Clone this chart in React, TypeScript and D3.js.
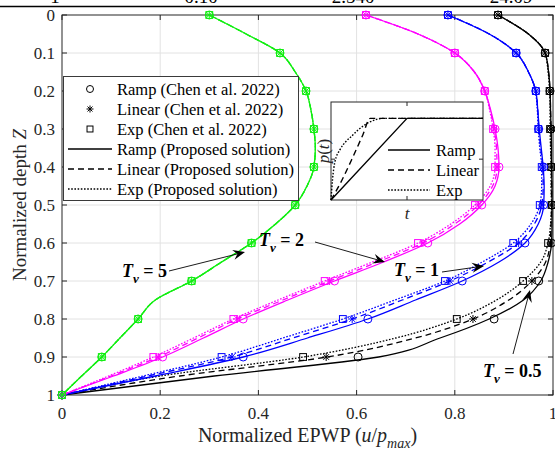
import * as d3 from 'd3'
import { useEffect, useRef } from 'react'

// depths where the proposed solution is sampled, and where Chen et al. 2022 values are marked
const zLine = [0, 0.05, 0.1, 0.15, 0.2, 0.25, 0.3, 0.35, 0.4, 0.45, 0.5, 0.55, 0.6, 0.65, 0.7, 0.75, 0.8, 0.85, 0.9, 0.95, 1]
const zMark = [0, 0.1, 0.2, 0.3, 0.4, 0.5, 0.6, 0.7, 0.8, 0.9, 1]

// Tv = 5 (all three loadings coincide)
const tv5Line = [0.30, 0.375, 0.444, 0.475, 0.497, 0.507, 0.513, 0.516, 0.513, 0.499, 0.475, 0.435, 0.386, 0.325, 0.264, 0.19, 0.155, 0.118, 0.081, 0.04, 0]
const tv5Mark = [0.30, 0.444, 0.497, 0.513, 0.513, 0.475, 0.386, 0.264, 0.155, 0.081, 0]

// Tv = 2
const tv2RampLine = [0.619, 0.725, 0.80, 0.84, 0.861, 0.873, 0.882, 0.888, 0.89, 0.882, 0.855, 0.81, 0.745, 0.655, 0.555, 0.46, 0.369, 0.288, 0.205, 0.105, 0]
const tv2LinLine = [0.619, 0.725, 0.80, 0.84, 0.861, 0.872, 0.88, 0.885, 0.886, 0.877, 0.848, 0.80, 0.735, 0.643, 0.545, 0.45, 0.357, 0.277, 0.196, 0.10, 0]
const tv2ExpLine = [0.619, 0.725, 0.80, 0.84, 0.861, 0.871, 0.878, 0.882, 0.882, 0.872, 0.841, 0.792, 0.725, 0.632, 0.535, 0.44, 0.349, 0.268, 0.186, 0.095, 0]
const tv2RampMark = [0.619, 0.80, 0.861, 0.882, 0.89, 0.855, 0.745, 0.555, 0.369, 0.205, 0]
const tv2LinMark = [0.619, 0.80, 0.861, 0.88, 0.886, 0.848, 0.735, 0.545, 0.357, 0.196, 0]
const tv2ExpMark = [0.619, 0.80, 0.861, 0.878, 0.882, 0.841, 0.725, 0.535, 0.349, 0.186, 0]

// Tv = 1
const tv1RampLine = [0.786, 0.87, 0.925, 0.95, 0.965, 0.969, 0.972, 0.976, 0.98, 0.982, 0.981, 0.97, 0.943, 0.89, 0.815, 0.72, 0.623, 0.50, 0.369, 0.19, 0]
const tv1LinLine = [0.786, 0.87, 0.925, 0.95, 0.965, 0.969, 0.971, 0.975, 0.979, 0.98, 0.977, 0.962, 0.93, 0.868, 0.79, 0.693, 0.591, 0.47, 0.346, 0.175, 0]
const tv1ExpLine = [0.786, 0.87, 0.925, 0.95, 0.964, 0.968, 0.97, 0.973, 0.977, 0.977, 0.973, 0.955, 0.919, 0.856, 0.78, 0.678, 0.572, 0.45, 0.325, 0.165, 0]
const tv1RampMark = [0.786, 0.925, 0.965, 0.971, 0.981, 0.981, 0.943, 0.815, 0.623, 0.369, 0]
const tv1LinMark = [0.786, 0.925, 0.965, 0.971, 0.979, 0.977, 0.93, 0.79, 0.591, 0.346, 0]
const tv1ExpMark = [0.786, 0.925, 0.965, 0.97, 0.977, 0.973, 0.919, 0.78, 0.572, 0.325, 0]

// Tv = 0.5
const tv05RampLine = [0.888, 0.95, 0.984, 0.991, 0.994, 0.995, 0.996, 0.997, 0.997, 0.998, 0.998, 0.998, 0.997, 0.99, 0.975, 0.94, 0.87, 0.77, 0.645, 0.31, 0]
const tv05LinLine = [0.888, 0.95, 0.984, 0.991, 0.994, 0.995, 0.996, 0.996, 0.997, 0.997, 0.997, 0.996, 0.994, 0.985, 0.957, 0.91, 0.837, 0.72, 0.54, 0.24, 0]
const tv05ExpLine = [0.888, 0.95, 0.984, 0.99, 0.993, 0.994, 0.994, 0.995, 0.996, 0.996, 0.997, 0.995, 0.99, 0.975, 0.939, 0.885, 0.804, 0.68, 0.491, 0.2, 0]
const tv05RampMark = [0.888, 0.984, 0.994, 0.996, 0.997, 0.998, 0.997, 0.971, 0.88, 0.603, 0]
const tv05LinMark = [0.888, 0.984, 0.994, 0.996, 0.997, 0.997, 0.995, 0.957, 0.837, 0.538, 0]
const tv05ExpMark = [0.888, 0.984, 0.993, 0.994, 0.996, 0.997, 0.99, 0.939, 0.804, 0.491, 0]

const xTicks = [0, 0.2, 0.4, 0.6, 0.8, 1]
const xTickLabels = ['0', '0.2', '0.4', '0.6', '0.8', '1']
const yTicks = [0, 0.1, 0.2, 0.3, 0.4, 0.5, 0.6, 0.7, 0.8, 0.9, 1]
const yTickLabels = ['0', '0.1', '0.2', '0.3', '0.4', '0.5', '0.6', '0.7', '0.8', '0.9', '1']

// inset: load history p(t)
const insetRampT = [0, 1, 2]
const insetRampP = [0, 1, 1]
const insetLinT = [0, 0.145, 0.27, 0.42, 0.515, 2]
const insetLinP = [0, 0.245, 0.49, 0.8, 1, 1]
const insetExpT = [0, 0.02, 0.05, 0.12, 0.2, 0.27, 0.36, 0.5, 0.7, 2]
const insetExpP = [0, 0.25, 0.46, 0.62, 0.72, 0.78, 0.86, 0.95, 1, 1]

const legendLabels = ['Ramp (Chen et al. 2022)', 'Linear (Chen et al. 2022)', 'Exp (Chen et al. 2022)', 'Ramp (Proposed solution)', 'Linear (Proposed solution)', 'Exp (Proposed solution)']
const insetLegend = ['Ramp', 'Linear', 'Exp']

// cut-off values of the table row above the figure
const topRowTexts = ['1', '0.10', '2.540', '24.09']
const topRowX = [55, 201, 353, 511]

const SERIF = '"Liberation Serif", "Times New Roman", serif'
const DASH = { ramp: null, linear: '6,4', exp: '1.6,1.6' }

const groups = [
  { tv: '0.5', color: '#000000', lines: [tv05RampLine, tv05LinLine, tv05ExpLine], marks: [tv05RampMark, tv05LinMark, tv05ExpMark] },
  { tv: '1', color: '#0000ff', lines: [tv1RampLine, tv1LinLine, tv1ExpLine], marks: [tv1RampMark, tv1LinMark, tv1ExpMark] },
  { tv: '2', color: '#ff00ff', lines: [tv2RampLine, tv2LinLine, tv2ExpLine], marks: [tv2RampMark, tv2LinMark, tv2ExpMark] },
  { tv: '5', color: '#11ee11', lines: [tv5Line, tv5Line, tv5Line], marks: [tv5Mark, tv5Mark, tv5Mark] },
]
const loads = ['ramp', 'linear', 'exp']
const markTypes = ['circle', 'star', 'square']

function marker(g, type, cx, cy, color, size) {
  if (type === 'circle') {
    g.append('circle').attr('cx', cx).attr('cy', cy).attr('r', size / 2)
      .attr('fill', 'none').attr('stroke', color).attr('stroke-width', 1)
  } else if (type === 'square') {
    const s = size * 0.85
    g.append('rect').attr('x', cx - s / 2).attr('y', cy - s / 2).attr('width', s).attr('height', s)
      .attr('fill', 'none').attr('stroke', color).attr('stroke-width', 1)
  } else {
    const r = size / 2
    ;[0, 45, 90, 135].forEach((a) => {
      const dx = r * Math.cos((a * Math.PI) / 180)
      const dy = r * Math.sin((a * Math.PI) / 180)
      g.append('line').attr('x1', cx - dx).attr('y1', cy - dy).attr('x2', cx + dx).attr('y2', cy + dy)
        .attr('stroke', color).attr('stroke-width', 1)
    })
  }
}

function arrow(g, x1, y1, x2, y2) {
  const ang = Math.atan2(y2 - y1, x2 - x1)
  const len = 12, hw = 5
  const bx = x2 - len * Math.cos(ang), by = y2 - len * Math.sin(ang)
  const nx = x2 - len * 0.65 * Math.cos(ang), ny = y2 - len * 0.65 * Math.sin(ang)
  const px = -Math.sin(ang) * hw, py = Math.cos(ang) * hw
  g.append('line').attr('x1', x1).attr('y1', y1).attr('x2', nx).attr('y2', ny)
    .attr('stroke', '#000').attr('stroke-width', 0.9)
  g.append('path')
    .attr('d', `M${x2},${y2}L${bx + px},${by + py}L${nx},${ny}L${bx - px},${by - py}Z`)
    .attr('fill', '#000')
}

function tvLabel(g, x, y, value) {
  const t = g.append('text').attr('x', x).attr('y', y).attr('font-family', SERIF)
    .attr('font-size', 18).attr('font-weight', 'bold').attr('fill', '#000')
  t.append('tspan').attr('font-style', 'italic').text('T')
  t.append('tspan').attr('font-style', 'italic').attr('font-size', 13).attr('dy', 6).text('v')
  t.append('tspan').attr('dy', -6).text(` = ${value}`)
}

export default function App() {
  const ref = useRef(null)
  useEffect(() => {
    const el = ref.current
    if (!el) return
    el.innerHTML = ''
    const width = 555
    const height = 453
    const svg = d3.select(el).append('svg').attr('width', width).attr('height', height)
      .style('display', 'block').style('background', '#fff')

    // fragment of the table above
    svg.append('line').attr('x1', 0).attr('x2', width).attr('y1', 6.5).attr('y2', 6.5)
      .attr('stroke', '#000').attr('stroke-width', 1.6)
    topRowTexts.forEach((s, i) => {
      svg.append('text').attr('x', topRowX[i]).attr('y', 3).attr('text-anchor', 'middle')
        .attr('font-family', SERIF).attr('font-size', 19).text(s)
    })

    const x = d3.scaleLinear().domain([0, 1]).range([62, 553])
    const y = d3.scaleLinear().domain([0, 1]).range([15, 395])

    // grid
    const grid = svg.append('g').attr('stroke', '#e2e2e2').attr('stroke-width', 1)
    xTicks.slice(1, -1).forEach((v) => {
      grid.append('line').attr('x1', x(v)).attr('x2', x(v)).attr('y1', y(0)).attr('y2', y(1))
    })
    yTicks.slice(1, -1).forEach((v) => {
      grid.append('line').attr('y1', y(v)).attr('y2', y(v)).attr('x1', x(0)).attr('x2', x(1))
    })

    // axes box + ticks
    const ax = svg.append('g').attr('stroke', '#262626').attr('stroke-width', 1)
    ax.append('rect').attr('x', x(0)).attr('y', y(0)).attr('width', x(1) - x(0)).attr('height', y(1) - y(0))
      .attr('fill', 'none')
    xTicks.forEach((v) => {
      ax.append('line').attr('x1', x(v)).attr('x2', x(v)).attr('y1', y(1)).attr('y2', y(1) - 5)
      ax.append('line').attr('x1', x(v)).attr('x2', x(v)).attr('y1', y(0)).attr('y2', y(0) + 5)
    })
    yTicks.forEach((v) => {
      ax.append('line').attr('y1', y(v)).attr('y2', y(v)).attr('x1', x(0)).attr('x2', x(0) + 5)
      ax.append('line').attr('y1', y(v)).attr('y2', y(v)).attr('x1', x(1)).attr('x2', x(1) - 5)
    })
    xTicks.forEach((v, i) => {
      svg.append('text').attr('x', x(v)).attr('y', 419).attr('text-anchor', 'middle')
        .attr('font-family', SERIF).attr('font-size', 17).attr('fill', '#262626').text(xTickLabels[i])
    })
    yTicks.forEach((v, i) => {
      svg.append('text').attr('x', 55).attr('y', y(v) + 6).attr('text-anchor', 'end')
        .attr('font-family', SERIF).attr('font-size', 17).attr('fill', '#262626').text(yTickLabels[i])
    })

    // axis titles
    const yt = svg.append('text').attr('transform', `translate(26,${y(0.5)}) rotate(-90)`)
      .attr('text-anchor', 'middle').attr('font-family', SERIF).attr('font-size', 19).attr('fill', '#262626')
    yt.append('tspan').text('Normalized depth ')
    yt.append('tspan').attr('font-style', 'italic').text('Z')
    const xt = svg.append('text').attr('x', x(0.5)).attr('y', 442).attr('text-anchor', 'middle')
      .attr('font-family', SERIF).attr('font-size', 20).attr('fill', '#262626')
    xt.append('tspan').text('Normalized EPWP (')
    xt.append('tspan').attr('font-style', 'italic').text('u')
    xt.append('tspan').text('/')
    xt.append('tspan').attr('font-style', 'italic').text('p')
    xt.append('tspan').attr('font-style', 'italic').attr('font-size', 14).attr('dy', 6).text('max')
    xt.append('tspan').attr('dy', -6).text(')')

    // curves
    const line = d3.line().x((d) => x(d[0])).y((d) => y(d[1])).curve(d3.curveMonotoneY)
    groups.forEach((gr) => {
      const g = svg.append('g')
      gr.lines.forEach((vals, k) => {
        const p = g.append('path').attr('d', line(vals.map((u, i) => [u, zLine[i]])))
          .attr('fill', 'none').attr('stroke', gr.color).attr('stroke-width', 1.3)
        if (DASH[loads[k]]) p.attr('stroke-dasharray', DASH[loads[k]])
      })
      gr.marks.forEach((vals, k) => {
        vals.forEach((u, i) => marker(g, markTypes[k], x(u), y(zMark[i]), gr.color, 8))
      })
    })

    // Tv annotations
    const ann = svg.append('g')
    tvLabel(ann, 122, 277, '5')
    arrow(ann, 169, 271, 245, 252)
    tvLabel(ann, 259, 246, '2')
    arrow(ann, 315, 242, 385, 262)
    tvLabel(ann, 394, 276, '1')
    arrow(ann, 442, 272, 484, 266)
    tvLabel(ann, 483, 377, '0.5')
    arrow(ann, 513, 354, 530, 290)

    // legend
    const lg = svg.append('g')
    lg.append('rect').attr('x', 63.5).attr('y', 76.5).attr('width', 235).attr('height', 124)
      .attr('fill', '#fff').attr('stroke', '#3a3a3a').attr('stroke-width', 1)
    legendLabels.forEach((s, i) => {
      const ry = 89 + i * 20
      if (i < 3) marker(lg, markTypes[i], 90, ry, '#000', 7)
      else {
        const l = lg.append('line').attr('x1', 68).attr('x2', 112).attr('y1', ry).attr('y2', ry)
          .attr('stroke', '#000').attr('stroke-width', 1.3)
        const dsh = DASH[loads[i - 3]]
        if (dsh) l.attr('stroke-dasharray', dsh)
      }
      lg.append('text').attr('x', 117).attr('y', ry + 6).attr('font-family', SERIF).attr('font-size', 16.5)
        .attr('fill', '#000').text(s)
    })

    // inset
    const ix = d3.scaleLinear().domain([0, 2]).range([331, 483])
    const iy = d3.scaleLinear().domain([0, 1.2]).range([200, 102])
    const ins = svg.append('g')
    ins.append('rect').attr('x', ix(0)).attr('y', iy(1.2)).attr('width', ix(2) - ix(0)).attr('height', iy(0) - iy(1.2))
      .attr('fill', '#fff').attr('stroke', '#262626').attr('stroke-width', 1)
    ins.append('line').attr('x1', ix(1)).attr('x2', ix(1)).attr('y1', iy(0)).attr('y2', iy(0) - 4).attr('stroke', '#262626')
    ins.append('line').attr('x1', ix(1)).attr('x2', ix(1)).attr('y1', iy(1.2)).attr('y2', iy(1.2) + 4).attr('stroke', '#262626')
    ins.append('line').attr('x1', ix(0)).attr('x2', ix(0) + 4).attr('y1', iy(0.5)).attr('y2', iy(0.5)).attr('stroke', '#262626')
    ins.append('line').attr('x1', ix(2)).attr('x2', ix(2) - 4).attr('y1', iy(0.5)).attr('y2', iy(0.5)).attr('stroke', '#262626')
    const il = d3.line().x((d) => ix(d[0])).y((d) => iy(d[1]))
    const ilc = d3.line().x((d) => ix(d[0])).y((d) => iy(d[1])).curve(d3.curveMonotoneX)
    ins.append('path').attr('d', il(insetRampT.map((t, i) => [t, insetRampP[i]])))
      .attr('fill', 'none').attr('stroke', '#000').attr('stroke-width', 1.4)
    ins.append('path').attr('d', ilc(insetLinT.map((t, i) => [t, insetLinP[i]])))
      .attr('fill', 'none').attr('stroke', '#000').attr('stroke-width', 1.4).attr('stroke-dasharray', DASH.linear)
    ins.append('path').attr('d', ilc(insetExpT.map((t, i) => [t, insetExpP[i]])))
      .attr('fill', 'none').attr('stroke', '#000').attr('stroke-width', 1.4).attr('stroke-dasharray', DASH.exp)
    insetLegend.forEach((s, i) => {
      const ry = 150 + i * 20
      const l = ins.append('line').attr('x1', 388).attr('x2', 430).attr('y1', ry).attr('y2', ry)
        .attr('stroke', '#000').attr('stroke-width', 1.3)
      const dsh = DASH[loads[i]]
      if (dsh) l.attr('stroke-dasharray', dsh)
      ins.append('text').attr('x', 436).attr('y', ry + 6).attr('font-family', SERIF).attr('font-size', 16.5)
        .attr('fill', '#000').text(s)
    })
    ins.append('text').attr('x', ix(1)).attr('y', 219).attr('text-anchor', 'middle').attr('font-family', SERIF)
      .attr('font-size', 17).attr('font-style', 'italic').attr('fill', '#262626').text('t')
    const pt = ins.append('text').attr('transform', `translate(329,${iy(0.6)}) rotate(-90)`)
      .attr('text-anchor', 'middle').attr('font-family', SERIF).attr('font-size', 17).attr('fill', '#262626')
    pt.append('tspan').attr('font-style', 'italic').text('p')
    pt.append('tspan').text('(')
    pt.append('tspan').attr('font-style', 'italic').text('t')
    pt.append('tspan').text(')')
  }, [])
  return <div ref={ref} style={{ position: 'absolute', left: 0, top: 0 }} />
}
